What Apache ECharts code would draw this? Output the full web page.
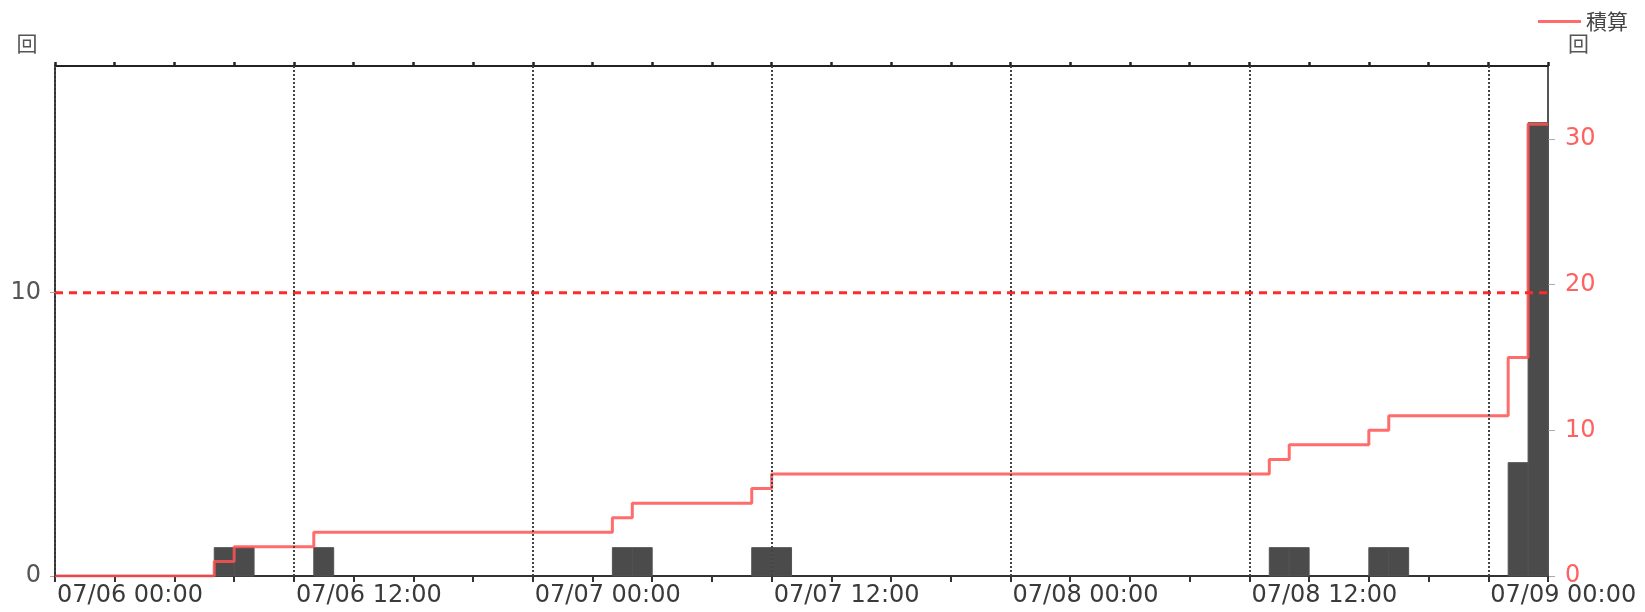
<!DOCTYPE html>
<html><head><meta charset="utf-8">
<script src="https://cdn.jsdelivr.net/npm/echarts@6/dist/echarts.min.js"></script>
<style>html,body{margin:0;padding:0;background:#fff}#c{width:1645px;height:612px}</style>
</head><body><div id="c"></div>
<script>
// ---- data ----
const axisStart = '07/06 00:00';
const axisEnd = '07/09 03:00';
const xTickLabels = ['07/06 00:00','07/06 12:00','07/07 00:00','07/07 12:00','07/08 00:00','07/08 12:00','07/09 00:00'];
const barTimes = ['07/06 08:00','07/06 09:00','07/06 13:00','07/07 04:00','07/07 05:00','07/07 11:00','07/07 12:00','07/08 13:00','07/08 14:00','07/08 18:00','07/08 19:00','07/09 01:00','07/09 02:00'];
const barValues = [1,1,1,1,1,1,1,1,1,1,1,4,16];
const barDurationHours = 1;
const cumTimes = ['07/06 00:00','07/06 08:00','07/06 09:00','07/06 13:00','07/07 04:00','07/07 05:00','07/07 11:00','07/07 12:00','07/08 13:00','07/08 14:00','07/08 18:00','07/08 19:00','07/09 01:00','07/09 02:00','07/09 03:00'];
const cumValues = [0,1,2,3,4,5,6,7,8,9,10,11,15,31,31];
const leftTicks = [0,10];
const rightTicks = [0,10,20,30];
const leftMax = 18;
const rightMax = 35;
const thresholdValue = 10;
const unitLabel = '回';
const cumName = '積算';

function parseT(s){
  const m = s.match(/(\d+)\/(\d+) (\d+):(\d+)/);
  return Date.UTC(2000, +m[1]-1, +m[2], +m[3], +m[4]);
}
function toH(s){ return (parseT(s) - parseT(axisStart)) / 3600000; }
const xMax = toH(axisEnd);
const labelMap = {};
xTickLabels.forEach(l => { labelMap[toH(l)] = l; });
const gridHours = xTickLabels.map(toH);
const barData = barTimes.map((t,i) => [toH(t), toH(t) + barDurationHours, barValues[i]]);
const cumData = cumTimes.map((t,i) => [toH(t), cumValues[i]]);

const FONT = 'DejaVu Sans';
const chart = echarts.init(document.getElementById('c'));
chart.setOption({
  animation: false,
  backgroundColor: '#fff',
  grid: {left: 55, right: 97, top: 66, bottom: 36, containLabel: false},
  legend: {
    data: [cumName], right: 12, top: 6, itemWidth: 43, itemHeight: 3, icon: 'rect',
    itemStyle: {color: '#ff6b6b'},
    textStyle: {fontSize: 21, fontFamily: 'Noto Sans CJK JP', color: '#444'}
  },
  xAxis: [{
    type: 'value', position: 'bottom', min: 0, max: xMax, interval: 3,
    axisLine: {show: true, onZero: false, lineStyle: {color: '#333', width: 2}},
    axisTick: {show: true, length: 6, lineStyle: {color: '#333', width: 2}},
    axisLabel: {customValues: gridHours, formatter: v => labelMap[v] || '', align: 'left', margin: 8,
      padding: [0, 0, 0, 2], fontSize: 24, fontFamily: FONT, color: '#3a3a3a'},
    splitLine: {show: false}
  }, {
    type: 'value', position: 'top', min: 0, max: xMax, interval: 3,
    axisLine: {show: true, onZero: false, lineStyle: {color: '#222', width: 2}},
    axisTick: {show: true, length: 4, lineStyle: {color: '#222', width: 2.5}},
    axisLabel: {show: false},
    splitLine: {show: false}
  }],
  yAxis: [{
    type: 'value', position: 'left', min: 0, max: leftMax,
    name: unitLabel, nameLocation: 'end', nameGap: 12,
    nameTextStyle: {fontSize: 21, fontFamily: 'Noto Sans CJK JP', color: '#555', padding: [0, 56, 0, 0]},
    axisLine: {show: true, onZero: false, lineStyle: {color: '#333', width: 2}},
    axisTick: {show: true, customValues: leftTicks, length: 5, lineStyle: {color: '#aaa', width: 1}},
    axisLabel: {customValues: leftTicks, margin: 14, fontSize: 24, fontFamily: FONT, color: '#555'},
    splitLine: {show: false}
  }, {
    type: 'value', position: 'right', min: 0, max: rightMax,
    name: unitLabel, nameLocation: 'end', nameGap: 12,
    nameTextStyle: {fontSize: 21, fontFamily: 'Noto Sans CJK JP', color: '#555', padding: [0, 0, 0, 61]},
    axisLine: {show: true, onZero: false, lineStyle: {color: '#555', width: 2}},
    axisTick: {show: true, customValues: rightTicks, length: 7, lineStyle: {color: '#aaa', width: 1}},
    axisLabel: {customValues: rightTicks, margin: 17, fontSize: 24, fontFamily: FONT, color: '#ff6060'},
    splitLine: {show: false}
  }],
  series: [{
    type: 'custom', name: 'count', xAxisIndex: 0, yAxisIndex: 0, z: 2,
    encode: {x: [0, 1], y: 2},
    data: barData,
    renderItem: function (params, api) {
      const p1 = api.coord([api.value(0), api.value(2)]);
      const p2 = api.coord([api.value(1), 0]);
      return {type: 'rect', shape: {x: p1[0], y: p1[1], width: p2[0] - p1[0], height: p2[1] - p1[1]},
        style: {fill: '#4b4b4b', stroke: '#525252', lineWidth: 1}};
    }
  }, {
    type: 'line', name: cumName, xAxisIndex: 0, yAxisIndex: 1, z: 3,
    step: 'end', symbol: 'none', data: cumData,
    lineStyle: {color: '#ff5252', width: 3, opacity: 0.85},
    itemStyle: {color: '#ff6b6b'}
  }, {
    type: 'line', name: 'threshold', xAxisIndex: 0, yAxisIndex: 0, z: 4,
    symbol: 'none', silent: true,
    data: [[0, thresholdValue], [xMax, thresholdValue]],
    lineStyle: {color: '#ff2a2a', width: 3, type: [8, 6]},
    markLine: {
      silent: true, symbol: ['none', 'none'], label: {show: false},
      lineStyle: {color: '#444', width: 2, type: [2, 2]},
      emphasis: {disabled: true},
      data: gridHours.map(h => ({xAxis: h}))
    }
  }]
});
</script></body></html>
